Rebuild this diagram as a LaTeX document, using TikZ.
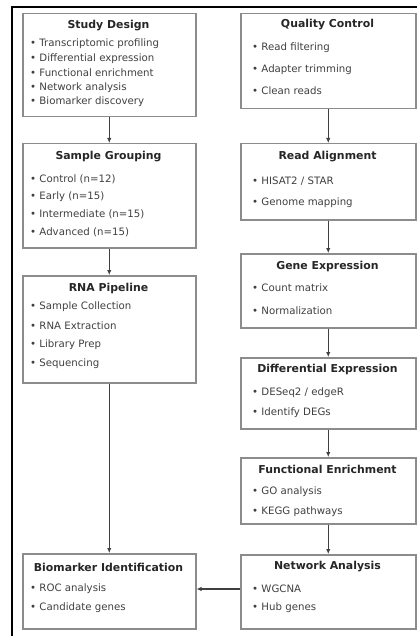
\documentclass[tikz,border=0pt]{standalone}
\usepackage{fontspec}
\setmainfont{DejaVu Sans}
\usepackage{tikz}
\usetikzlibrary{arrows.meta}
\usetikzlibrary{calc}
\tikzset{>=latex}

\begin{document}
\begin{tikzpicture}[
        x=1pt, y=-1pt,
        stagebox/.style={draw=black!45, line width=1.5pt, fill=white, inner sep=0pt, anchor=north west},
        stagetitle/.style={font=\fontsize{10.9}{13}\selectfont\bfseries, text=black!85, inner sep=0pt},
        stageitem/.style={font=\fontsize{10.2}{12}\selectfont, text=black!75, inner sep=0pt, anchor=west},
        flow/.style={draw=black!75, line width=1.2pt, -{Latex[length=5pt,width=4.5pt]}}
    ]

    \useasboundingbox (0,0) rectangle (417,636);

    %=== Frame ===%
    \draw[line width=2.5pt] (417,7) -- (12,7) -- (12,636);

    %=== Stage Macro ===%
    % #1 name, #2 left x, #3 right x, #4 top y, #5 bottom y, #6 title y, #7 title, #8 item offset
    \newcommand{\stage}[8]{
        \pgfmathsetmacro{\w}{#3-#2}
        \pgfmathsetmacro{\h}{#5-#4}
        \pgfmathsetmacro{\cx}{(#2+#3)/2}
        \pgfmathsetmacro{\ix}{#2+#8}
        \node[stagebox, minimum width=\w pt, minimum height=\h pt] (#1) at (#2,#4) {};
        \node[stagetitle] (#1-title) at (\cx,#6) {#7};
    }

    %=== Left column ===%
    \stage{sd}{22}{195}{13}{116}{26}{Study Design}{8}
    \foreach \y/\t [count=\i] in {44/Transcriptomic profiling, 58.5/Differential expression,
            73/Functional enrichment, 87.5/Network analysis, 102/Biomarker discovery}
        \node[stageitem] (sd-\i) at (30,\y) {• \t};

    \stage{sg}{22}{195}{143}{247}{157}{Sample Grouping}{8}
    \foreach \y/\t [count=\i] in {179/Control (n=12), 197/Early (n=15),
            214/Intermediate (n=15), 232/Advanced (n=15)}
        \node[stageitem] (sg-\i) at (30,\y) {• \t};

    \stage{rna}{22}{195}{275}{382}{288}{RNA Pipeline}{8}
    \foreach \y/\t [count=\i] in {307/Sample Collection, 326/RNA Extraction,
            345/Library Prep, 364/Sequencing}
        \node[stageitem] (rna-\i) at (30,\y) {• \t};

    \stage{bi}{22}{195}{553}{628}{567}{Biomarker Identification}{8}
    \foreach \y/\t [count=\i] in {589/ROC analysis, 608/Candidate genes}
        \node[stageitem] (bi-\i) at (30,\y) {• \t};

    %=== Right column ===%
    \stage{qc}{240}{415}{13}{108}{25}{Quality Control}{12}
    \foreach \y/\t [count=\i] in {48/Read filtering, 70/Adapter trimming, 91/Clean reads}
        \node[stageitem] (qc-\i) at (252,\y) {• \t};

    \stage{ra}{240}{415}{143}{219}{157}{Read Alignment}{12}
    \foreach \y/\t [count=\i] in {181/{HISAT2 / STAR}, 203/Genome mapping}
        \node[stageitem] (ra-\i) at (252,\y) {• \t};

    \stage{ge}{240}{415}{253}{327}{266}{Gene Expression}{12}
    \foreach \y/\t [count=\i] in {288/Count matrix, 311/Normalization}
        \node[stageitem] (ge-\i) at (252,\y) {• \t};

    \stage{de}{240}{415}{357}{428}{369}{Differential Expression}{12}
    \foreach \y/\t [count=\i] in {393/{DESeq2 / edgeR}, 413/Identify DEGs}
        \node[stageitem] (de-\i) at (252,\y) {• \t};

    \stage{fe}{240}{415}{457}{523}{469}{Functional Enrichment}{12}
    \foreach \y/\t [count=\i] in {492/GO analysis, 512/KEGG pathways}
        \node[stageitem] (fe-\i) at (252,\y) {• \t};

    \stage{na}{240}{415}{554}{628}{567}{Network Analysis}{12}
    \foreach \y/\t [count=\i] in {589/WGCNA, 608/Hub genes}
        \node[stageitem] (na-\i) at (252,\y) {• \t};

    %=== Connectors ===%
    \draw[flow] (sd.south) -- (sg.north);
    \draw[flow] (sg.south) -- (rna.north);
    \draw[flow] (rna.south) -- (bi.north);
    \draw[flow] (qc.south) -- (ra.north);
    \draw[flow] (ra.south) -- (ge.north);
    \draw[flow] (ge.south) -- (de.north);
    \draw[flow] (de.south) -- (fe.north);
    \draw[flow] (fe.south) -- (na.north);
    \draw[flow] (na.west |- na-1) -- (na-1 -| bi.east);

\end{tikzpicture}
\end{document}
